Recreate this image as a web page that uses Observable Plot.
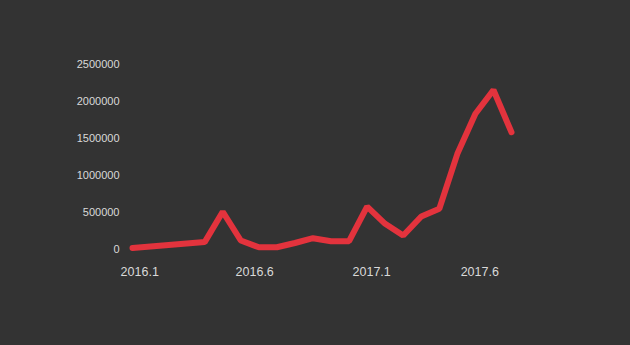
<!DOCTYPE html>
<html>
<head>
<meta charset="utf-8">
<script src="https://cdn.jsdelivr.net/npm/d3@7"></script>
<script src="https://cdn.jsdelivr.net/npm/@observablehq/plot@0.6"></script>
<style>
  html, body { margin: 0; padding: 0; background: #333333; }
  #chart { width: 630px; height: 345px; }
</style>
</head>
<body>
<div id="chart"></div>
<script>
// Monthly values, 2016.1 .. 2017.10 (index 0..21)
const months = d3.range(22);
const values = [20000, 40000, 60000, 80000, 100000, 510000, 122000, 30000, 30000, 88000,
                153000, 112000, 112000, 580000, 347000, 189000, 446000, 550000, 1293000,
                1834000, 2155000, 1585000];
const xTickPositions = [0.4, 6.77, 13.25, 19.24];
const xTickLabels = ["2016.1", "2016.6", "2017.1", "2017.6"];
const yTicks = [0, 500000, 1000000, 1500000, 2000000, 2500000];

const data = months.map((m, i) => ({m, v: values[i]}));

const chart = Plot.plot({
  width: 630,
  height: 345,
  marginLeft: 132,
  marginRight: 119,
  marginTop: 64,
  marginBottom: 96,
  style: {background: "#333333", fontFamily: "Liberation Sans, Arial, sans-serif"},
  x: {domain: [0, 21], axis: null},
  y: {domain: [0, 2500000], axis: null},
  marks: [
    Plot.axisY(yTicks, {
      tickSize: 0, tickPadding: 13, tickFormat: d => String(d),
      fill: "#d9d9d9", fontSize: 11, label: null
    }),
    Plot.axisX(xTickPositions, {
      tickSize: 0, tickPadding: 18, tickFormat: (d, i) => xTickLabels[i],
      fill: "#d9d9d9", fontSize: 12.5, label: null
    }),
    Plot.line(data, {x: "m", y: "v", stroke: "#e3333d", strokeWidth: 6,
      strokeLinejoin: "miter", strokeLinecap: "round"})
  ]
});
document.getElementById("chart").appendChild(chart);
</script>
</body>
</html>
